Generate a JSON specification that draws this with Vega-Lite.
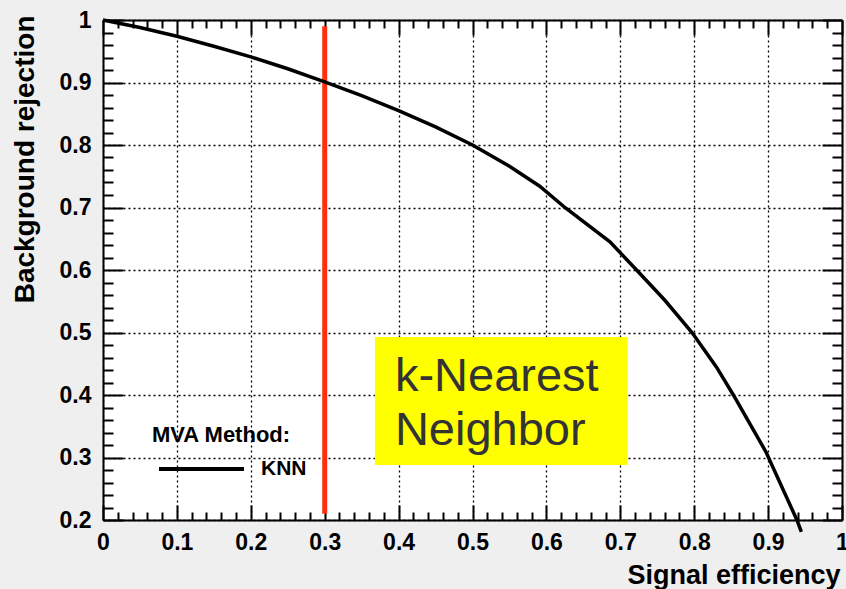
{
  "$schema": "https://vega.github.io/schema/vega-lite/v6.json",
  "width": 739,
  "height": 500,
  "autosize": {"type": "none"},
  "padding": {"left": 103, "top": 20, "right": 4, "bottom": 69},
  "background": "#efefef",
  "config": {
    "view": {"fill": "#ffffff", "stroke": null},
    "axis": {
      "labelFont": "Liberation Sans",
      "labelFontWeight": "bold",
      "labelFontSize": 23,
      "labelColor": "#000000",
      "titleFont": "Liberation Sans",
      "titleFontWeight": "bold",
      "titleColor": "#000000",
      "domainColor": "#000000",
      "domainWidth": 2,
      "tickColor": "#000000",
      "tickWidth": 2,
      "gridColor": "#000000",
      "gridDash": [2, 3],
      "gridWidth": 1.3,
      "gridOpacity": 1,
      "labelFlush": false,
      "labelOverlap": false
    }
  },
  "datasets": {
    "curve": [
      {"eff": 0.0, "rej": 1.0, "method": "KNN"},
      {"eff": 0.05, "rej": 0.988, "method": "KNN"},
      {"eff": 0.1, "rej": 0.974, "method": "KNN"},
      {"eff": 0.15, "rej": 0.958, "method": "KNN"},
      {"eff": 0.2, "rej": 0.941, "method": "KNN"},
      {"eff": 0.25, "rej": 0.922, "method": "KNN"},
      {"eff": 0.3, "rej": 0.901, "method": "KNN"},
      {"eff": 0.35, "rej": 0.879, "method": "KNN"},
      {"eff": 0.4, "rej": 0.855, "method": "KNN"},
      {"eff": 0.45, "rej": 0.829, "method": "KNN"},
      {"eff": 0.5, "rej": 0.8, "method": "KNN"},
      {"eff": 0.55, "rej": 0.766, "method": "KNN"},
      {"eff": 0.591, "rej": 0.734, "method": "KNN"},
      {"eff": 0.625, "rej": 0.7, "method": "KNN"},
      {"eff": 0.686, "rej": 0.645, "method": "KNN"},
      {"eff": 0.722, "rej": 0.6, "method": "KNN"},
      {"eff": 0.76, "rej": 0.552, "method": "KNN"},
      {"eff": 0.797, "rej": 0.5, "method": "KNN"},
      {"eff": 0.83, "rej": 0.445, "method": "KNN"},
      {"eff": 0.853, "rej": 0.4, "method": "KNN"},
      {"eff": 0.897, "rej": 0.309, "method": "KNN"},
      {"eff": 0.939, "rej": 0.2, "method": "KNN"},
      {"eff": 0.945, "rej": 0.181, "method": "KNN"}
    ],
    "cut": [{"eff": 0.3, "lo": 0.21, "hi": 0.99}],
    "note": [{"x1": 0.368, "x2": 0.71, "y1": 0.288, "y2": 0.493, "tx": 0.395, "ty": 0.407, "label": "k-Nearest\nNeighbor"}]
  },
  "resolve": {"axis": {"x": "independent", "y": "independent"}},
  "layer": [
    {
      "data": {"name": "note"},
      "mark": {"type": "rect", "fill": "#ffff00", "stroke": null},
      "encoding": {
        "x": {"field": "x1", "type": "quantitative",
          "scale": {"domain": [0, 1], "nice": false, "zero": false},
          "axis": {"orient": "bottom", "values": [0, 0.1, 0.2, 0.3, 0.4, 0.5, 0.6, 0.7, 0.8, 0.9, 1], "format": "~g",
            "grid": true, "ticks": false, "tickSize": 0, "labelPadding": 11, "domain": true,
            "title": "Signal efficiency", "titleFontSize": 27, "titleAlign": "right", "titleAnchor": "end",
            "titleX": 737, "titleY": 63, "titleBaseline": "alphabetic"}},
        "x2": {"field": "x2"},
        "y": {"field": "y1", "type": "quantitative",
          "scale": {"domain": [0.2, 1], "nice": false, "zero": false},
          "axis": {"orient": "left", "values": [0.2, 0.3, 0.4, 0.5, 0.6, 0.7, 0.8, 0.9, 1], "format": "~g",
            "grid": true, "ticks": false, "tickSize": 0, "labelPadding": 12, "domain": true,
            "title": "Background rejection", "titleFontSize": 28, "titleAngle": 270, "titleAlign": "right", "titleAnchor": "end",
            "titleX": -70, "titleY": -5, "titleBaseline": "alphabetic"}},
        "y2": {"field": "y2"}
      }
    },
    {
      "data": {"name": "note"},
      "mark": {"type": "text", "font": "Liberation Sans", "fontSize": 47, "color": "#333333", "align": "left", "baseline": "alphabetic", "lineBreak": "\n", "lineHeight": 54},
      "encoding": {
        "x": {"field": "tx", "type": "quantitative", "scale": {"domain": [0, 1], "nice": false, "zero": false},
          "axis": {"orient": "bottom", "values": [0, 0.1, 0.2, 0.3, 0.4, 0.5, 0.6, 0.7, 0.8, 0.9, 1], "grid": false, "labels": false, "domain": false, "ticks": true, "tickSize": -15, "title": null}},
        "y": {"field": "ty", "type": "quantitative", "scale": {"domain": [0.2, 1], "nice": false, "zero": false},
          "axis": {"orient": "left", "values": [0.2, 0.3, 0.4, 0.5, 0.6, 0.7, 0.8, 0.9, 1], "grid": false, "labels": false, "domain": false, "ticks": true, "tickSize": -20, "title": null}},
        "text": {"field": "label"}
      }
    },
    {
      "data": {"name": "cut"},
      "mark": {"type": "rule", "color": "#ff3010", "strokeWidth": 5},
      "encoding": {
        "x": {"field": "eff", "type": "quantitative", "scale": {"domain": [0, 1], "nice": false, "zero": false},
          "axis": {"orient": "bottom", "values": [0.02, 0.04, 0.06, 0.08, 0.12, 0.14, 0.16, 0.18, 0.22, 0.24, 0.26, 0.28, 0.32, 0.34, 0.36, 0.38, 0.42, 0.44, 0.46, 0.48, 0.52, 0.54, 0.56, 0.58, 0.62, 0.64, 0.66, 0.68, 0.72, 0.74, 0.76, 0.78, 0.82, 0.84, 0.86, 0.88, 0.92, 0.94, 0.96, 0.98], "grid": false, "labels": false, "domain": false, "ticks": true, "tickSize": -8, "title": null}},
        "y": {"field": "lo", "type": "quantitative", "scale": {"domain": [0.2, 1], "nice": false, "zero": false},
          "axis": {"orient": "left", "values": [0.22, 0.24, 0.26, 0.28, 0.32, 0.34, 0.36, 0.38, 0.42, 0.44, 0.46, 0.48, 0.52, 0.54, 0.56, 0.58, 0.62, 0.64, 0.66, 0.68, 0.72, 0.74, 0.76, 0.78, 0.82, 0.84, 0.86, 0.88, 0.92, 0.94, 0.96, 0.98], "grid": false, "labels": false, "domain": false, "ticks": true, "tickSize": -10, "title": null}},
        "y2": {"field": "hi"}
      }
    },
    {
      "data": {"name": "curve"},
      "mark": {"type": "point", "opacity": 0},
      "encoding": {
        "x": {"field": "eff", "type": "quantitative", "scale": {"domain": [0, 1], "nice": false, "zero": false},
          "axis": {"orient": "top", "values": [0, 0.1, 0.2, 0.3, 0.4, 0.5, 0.6, 0.7, 0.8, 0.9, 1], "grid": false, "labels": false, "domain": true, "ticks": true, "tickSize": -15, "title": null}},
        "y": {"field": "rej", "type": "quantitative", "scale": {"domain": [0.2, 1], "nice": false, "zero": false},
          "axis": {"orient": "right", "values": [0.2, 0.3, 0.4, 0.5, 0.6, 0.7, 0.8, 0.9, 1], "grid": false, "labels": false, "domain": true, "ticks": true, "tickSize": -20, "title": null}}
      }
    },
    {
      "data": {"name": "curve"},
      "mark": {"type": "line", "strokeWidth": 3.5, "interpolate": "linear"},
      "encoding": {
        "x": {"field": "eff", "type": "quantitative", "scale": {"domain": [0, 1], "nice": false, "zero": false},
          "axis": {"orient": "top", "values": [0.02, 0.04, 0.06, 0.08, 0.12, 0.14, 0.16, 0.18, 0.22, 0.24, 0.26, 0.28, 0.32, 0.34, 0.36, 0.38, 0.42, 0.44, 0.46, 0.48, 0.52, 0.54, 0.56, 0.58, 0.62, 0.64, 0.66, 0.68, 0.72, 0.74, 0.76, 0.78, 0.82, 0.84, 0.86, 0.88, 0.92, 0.94, 0.96, 0.98], "grid": false, "labels": false, "domain": false, "ticks": true, "tickSize": -8, "title": null}},
        "y": {"field": "rej", "type": "quantitative", "scale": {"domain": [0.2, 1], "nice": false, "zero": false},
          "axis": {"orient": "right", "values": [0.22, 0.24, 0.26, 0.28, 0.32, 0.34, 0.36, 0.38, 0.42, 0.44, 0.46, 0.48, 0.52, 0.54, 0.56, 0.58, 0.62, 0.64, 0.66, 0.68, 0.72, 0.74, 0.76, 0.78, 0.82, 0.84, 0.86, 0.88, 0.92, 0.94, 0.96, 0.98], "grid": false, "labels": false, "domain": false, "ticks": true, "tickSize": -10, "title": null}},
        "color": {"field": "method", "type": "nominal", "scale": {"range": ["#000000"]},
          "legend": {"orient": "none", "legendX": 49, "legendY": 405, "padding": 0, "title": "MVA Method:",
            "titleFont": "Liberation Sans", "titleFontSize": 22, "titleFontWeight": "bold", "titleColor": "#000000", "titlePadding": 12,
            "symbolType": "stroke", "symbolSize": 7225, "symbolStrokeWidth": 4, "symbolOffset": 5, "clipHeight": 20,
            "labelFont": "Liberation Sans", "labelFontSize": 21, "labelFontWeight": "bold", "labelColor": "#000000", "labelOffset": 15}}
      }
    }
  ]
}
